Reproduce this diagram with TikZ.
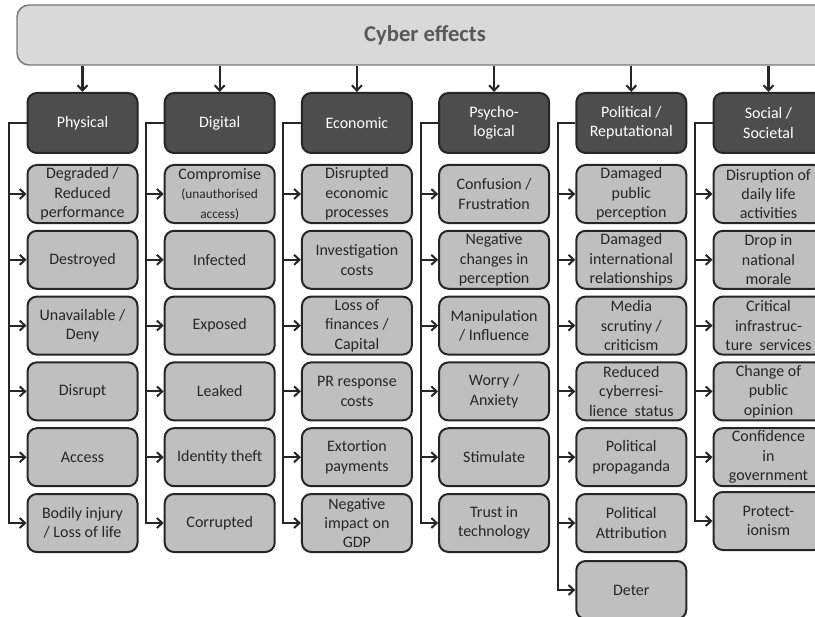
\documentclass[tikz,border=0pt]{standalone}
\usepackage{fontspec}
\setmainfont{Carlito}
\usetikzlibrary{arrows.meta}
\definecolor{topfill}{RGB}{217,217,217}
\definecolor{topline}{RGB}{120,120,120}
\definecolor{toptext}{RGB}{89,89,89}
\definecolor{catfill}{RGB}{77,77,77}
\definecolor{kidfill}{RGB}{191,191,191}
\definecolor{ink}{RGB}{38,38,38}
\begin{document}
\begin{tikzpicture}[x=0.75pt,y=-0.75pt,
  topbox/.style={draw=topline, fill=topfill, line width=1.1pt, rounded corners=9pt,
    minimum width=612pt, minimum height=45pt, text=toptext,
    font=\bfseries\fontsize{17}{20}\selectfont},
  catbox/.style={draw=ink, fill=catfill, line width=1.5pt, rounded corners=7pt,
    minimum width=82.5pt, minimum height=45pt, text=white, align=center, inner sep=1pt,
    font=\fontsize{12}{14.6}\selectfont},
  kid/.style={draw=ink, fill=kidfill, line width=1.5pt, rounded corners=7pt,
    minimum width=82.5pt, minimum height=43.5pt, text=ink, align=center, inner sep=0.5pt,
    font=\fontsize{12}{14.6}\selectfont},
  conn/.style={draw=ink, line width=1.6pt, -{Straight Barb[length=4pt,width=7.5pt,line width=1.5pt]}},
  small/.style={font=\fontsize{10}{12}\selectfont}]
\useasboundingbox (0,0) rectangle (815,617);
\clip (0,0) rectangle (815,617);

\node[topbox] (top) at (425,35) {Cyber effects};

% category boxes
\node[catbox] (c0) at (82.5,123) {Physical};
\node[catbox] (c1) at (219.7,123) {Digital};
\node[catbox] (c2) at (356.9,123) {Economic};
\node[catbox] (c3) at (494.1,123) {Psycho-\\logical};
\node[catbox] (c4) at (631.3,123) {Political /\\Reputational};
\node[catbox] (c5) at (768.5,123) {Social /\\Societal};

% trunk line positions
\coordinate (L0) at (9,0);
\coordinate (L1) at (146.2,0);
\coordinate (L2) at (283.4,0);
\coordinate (L3) at (420.6,0);
\coordinate (L4) at (557.8,0);
\coordinate (L5) at (695,0);

% Physical
\node[kid] (p1) at (82.5,194) {Degraded /\\Reduced\\performance};
\node[kid] (p2) at (82.5,259.8) {Destroyed};
\node[kid] (p3) at (82.5,325.6) {Unavailable /\\Deny};
\node[kid] (p4) at (82.5,391.4) {Disrupt};
\node[kid] (p5) at (82.5,457.2) {Access};
\node[kid] (p6) at (82.5,523) {Bodily injury\\/ Loss of life};

% Digital
\node[kid] (d1) at (219.7,194) {Compromise\\{\small\fontsize{10}{12}\selectfont (unauthorised}\\{\fontsize{10}{12}\selectfont access)}};
\node[kid] (d2) at (219.7,259.8) {Infected};
\node[kid] (d3) at (219.7,325.6) {Exposed};
\node[kid] (d4) at (219.7,391.4) {Leaked};
\node[kid] (d5) at (219.7,457.2) {Identity theft};
\node[kid] (d6) at (219.7,523) {Corrupted};

% Economic
\node[kid] (e1) at (356.9,194) {Disrupted\\economic\\processes};
\node[kid] (e2) at (356.9,259.8) {Investigation\\costs};
\node[kid] (e3) at (356.9,325.6) {Loss of\\finances /\\Capital};
\node[kid] (e4) at (356.9,391.4) {PR response\\costs};
\node[kid] (e5) at (356.9,457.2) {Extortion\\payments};
\node[kid] (e6) at (356.9,523) {Negative\\impact on\\GDP};

% Psychological
\node[kid] (s1) at (494.1,194) {Confusion /\\Frustration};
\node[kid] (s2) at (494.1,259.8) {Negative\\changes in\\perception};
\node[kid] (s3) at (494.1,325.6) {Manipulation\\/ Influence};
\node[kid] (s4) at (494.1,391.4) {Worry /\\Anxiety};
\node[kid] (s5) at (494.1,457.2) {Stimulate};
\node[kid] (s6) at (494.1,523) {Trust in\\technology};

% Political
\node[kid] (r1) at (631.3,194) {Damaged\\public\\perception};
\node[kid] (r2) at (631.3,259.8) {Damaged\\international\\relationships};
\node[kid] (r3) at (631.3,325.6) {Media\\scrutiny /\\criticism};
\node[kid] (r4) at (631.3,391.4) {Reduced\\cyberresi-\\lience~~status};
\node[kid] (r5) at (631.3,457.2) {Political\\propaganda};
\node[kid] (r6) at (631.3,523) {Political\\Attribution};
\node[kid] (r7) at (631.3,590) {Deter};

% Social
\node[kid] (o1) at (768.5,194) {Disruption of\\daily life\\activities};
\node[kid] (o2) at (768.5,259.8) {Drop in\\national\\morale};
\node[kid] (o3) at (768.5,325.6) {Critical\\infrastruc-\\ture~~services};
\node[kid] (o4) at (768.5,391.4) {Change of\\public\\opinion};
\node[kid] (o5) at (768.5,457.2) {Confidence\\in\\government};
\node[kid] (o6) at (768.5,521) {Protect-\\ionism};

% arrows from top
\foreach \c in {c0,c1,c2,c3,c4,c5}
  \draw[conn] (top.south -| \c.north) -- (\c.north);

% trunks and branches
\foreach \c/\l/\k in {c0/L0/p, c1/L1/d, c2/L2/e, c3/L3/s, c4/L4/r, c5/L5/o}
  \foreach \i in {1,...,6}
    \draw[conn] (\c.west) -- (\c.west -| \l) |- (\k\i.west);
\draw[conn] (c4.west) -- (c4.west -| L4) |- (r7.west);
\end{tikzpicture}
\end{document}
